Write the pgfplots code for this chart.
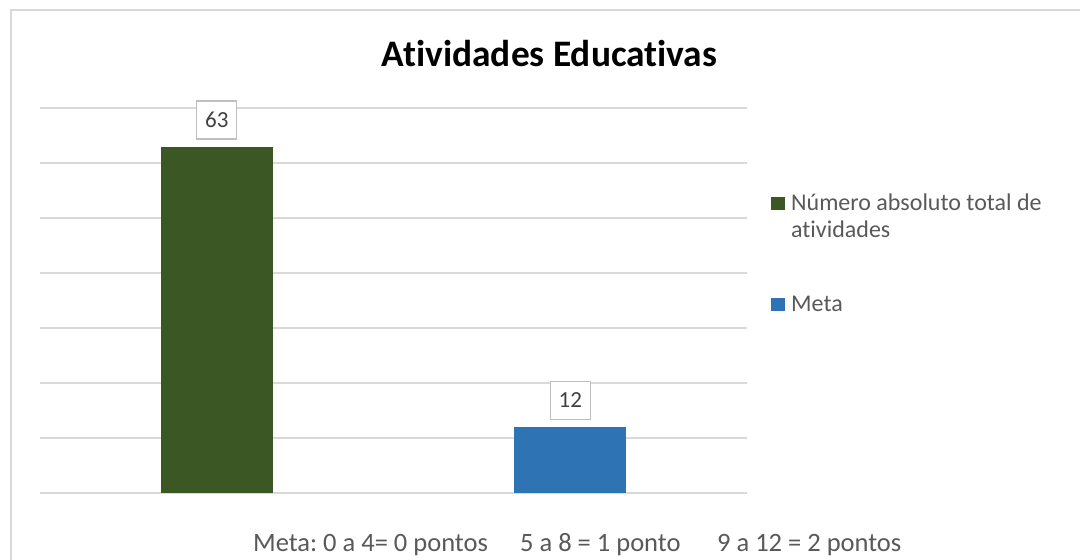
\documentclass[border=0pt]{standalone}
\usepackage{pgfplots}
\pgfplotsset{compat=1.18}
\usepackage{fontspec}
\setmainfont{Carlito}[Ligatures=NoCommon]
\definecolor{cgreen}{HTML}{3A5724}
\definecolor{cblue}{HTML}{2E74B5}
\definecolor{cgrid}{HTML}{D9D9D9}
\definecolor{ctext}{HTML}{595959}
\definecolor{clabel}{HTML}{404040}
\definecolor{cbox}{HTML}{BFBFBF}
\begin{document}
\frenchspacing
\begin{tikzpicture}[x=1pt,y=1pt]
\useasboundingbox (0,0) rectangle (1080,560);
\fill[white] (0,0) rectangle (1080,560);
\draw[cgrid, line width=1.5pt] (11,0) -- (11,550) -- (1080,550);
\begin{axis}[
  at={(40pt,67pt)}, anchor=south west,
  scale only axis, width=707pt, height=385pt,
  xmin=-0.5, xmax=1.5, ymin=0, ymax=70,
  ytick={0,10,...,70}, yticklabels={},
  xtick=\empty,
  ymajorgrids, grid style={cgrid, line width=1.5pt},
  axis line style={draw=none}, major tick length=0pt,
  clip=false,
  /pgf/number format/assume math mode=true,
  nodes near coords,
  every node near coord/.append style={draw=cbox, line width=1.2pt, fill=white,
     text=clabel, font=\fontsize{23}{26}\selectfont,
     minimum width=40pt, minimum height=38pt, inner sep=0pt,
     anchor=south, yshift=7pt},
  legend style={at={(1.0339,0.7766)}, anchor=north west, draw=none, fill=none,
     inner sep=0pt, font=\fontsize{24}{28}\selectfont, text=ctext,
     row sep=6pt, column sep=6pt,
     cells={anchor=base west},
     nodes={inner sep=0pt, text height=16pt, text depth=5pt}},
  legend image code/.code={\fill[#1,draw=none] (0pt,0pt) rectangle (14pt,13pt);},
]
\addplot[ybar, bar width=112pt, bar shift=0pt, fill=cgreen, draw=none] coordinates {(0,63)};
\addlegendentry{Número absoluto total de}
\addlegendimage{empty legend}
\addlegendentry{atividades}
\addplot[ybar, bar width=112pt, bar shift=0pt, fill=cblue, draw=none] coordinates {(1,12)};
\addlegendentry[text height=63pt]{Meta}
\end{axis}
\node[anchor=base, font=\bfseries\fontsize{37.4}{42}\selectfont] at (549.5,493) {Atividades Educativas};
\node[anchor=base west, inner sep=0pt, font=\fontsize{26.5}{30}\selectfont, text=ctext] at (253,8) {Meta: 0 a 4= 0 pontos};
\node[anchor=base west, inner sep=0pt, font=\fontsize{26.5}{30}\selectfont, text=ctext] at (520,8) {5 a 8 = 1 ponto};
\node[anchor=base west, inner sep=0pt, font=\fontsize{26.5}{30}\selectfont, text=ctext] at (717,8) {9 a 12 = 2 pontos};
\end{tikzpicture}
\end{document}
